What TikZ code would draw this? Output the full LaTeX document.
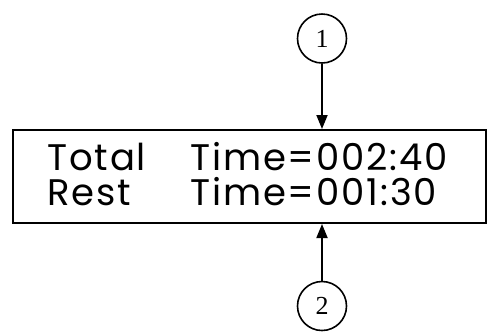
\documentclass[tikz,border=0pt]{standalone}
\usepackage{fontspec}
\setmainfont{Liberation Serif}
\newfontfamily\lcdfont[LetterSpace=5]{Poppins}
\usepackage{tikz}
\usetikzlibrary{arrows.meta,positioning}

\newcommand{\lcdlabel}[1]{\makebox[71.5pt][l]{#1}}

\begin{document}
\begin{tikzpicture}[x=0.5pt, y=-0.5pt,
        display/.style={rectangle, draw, line width=1pt, inner sep=0pt, minimum width=236.5pt, minimum height=46.5pt},
        readout/.style={anchor=west, align=left, inner sep=0pt, font=\lcdfont\fontsize{18.5}{17.5}\selectfont},
        marker/.style={circle, draw, line width=0.8pt, minimum size=24.5pt, inner sep=0pt, font=\fontsize{13}{15}\selectfont},
        arrow/.style={-{Triangle[length=7pt,width=5.5pt]}, line width=0.9pt}
    ]
        \useasboundingbox (0,0) rectangle (487,334);

        % Display
        \node[display] (display) at (249.5,176.5) {};
        \node[readout] (readings) at (47,174) {\lcdlabel{Total}Time=002:40\\\lcdlabel{Rest}Time=001:30};

        % Markers
        \node[marker] (one) at (322,38.5) {1};
        \node[marker] (two) at (322,306) {2};

        % Arrows
        \draw[arrow] (one) -- (one |- display.north);
        \draw[arrow] (two) -- (two |- display.south);

    \end{tikzpicture}
\end{document}
